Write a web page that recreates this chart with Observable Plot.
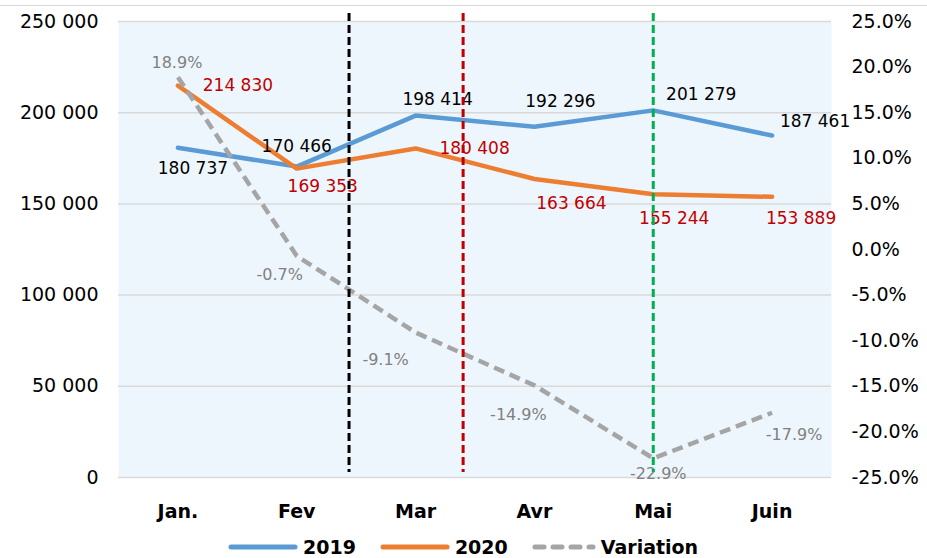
<!DOCTYPE html>
<html>
<head>
<meta charset="utf-8">
<script src="https://cdn.jsdelivr.net/npm/d3@7"></script>
<script src="https://cdn.jsdelivr.net/npm/@observablehq/plot@0.6"></script>
<style>
  body { margin: 0; background: #fff; font-family: "DejaVu Sans", sans-serif; }
  #wrap { position: relative; width: 927px; height: 558px; overflow: hidden; }
  #topline { position: absolute; left: 0; top: 5px; width: 927px; height: 1px; background: #d9d9d9; }
  #chart { position: absolute; left: 0; top: 0; }
  #legend { position: absolute; left: 228px; top: 536px; display: flex; align-items: center;
            font: bold 19px "DejaVu Sans", sans-serif; color: #000; }
  .item { display: flex; align-items: center; margin-right: 24px; }
  .item svg { margin-right: 5px; }
</style>
</head>
<body>
<div id="wrap">
  <div id="topline"></div>
  <div id="chart"></div>
  <div id="legend"></div>
</div>
<script>
// ---- data ----
const months = ["Jan.", "Fev", "Mar", "Avr", "Mai", "Juin"];
const values2019 = [180737, 170466, 198414, 192296, 201279, 187461];
const values2020 = [214830, 169353, 180408, 163664, 155244, 153889];
const variation = [18.9, -0.7, -9.1, -14.9, -22.9, -17.9];
const leftTicks = [0, 50000, 100000, 150000, 200000, 250000];
const rightTicks = [-25, -20, -15, -10, -5, 0, 5, 10, 15, 20, 25];
const eventMonths = [1.44, 2.40, 4.0];   // position of the vertical markers, in month units
const seriesNames = ["2019", "2020", "Variation"];

// ---- styling / layout (not data) ----
const colors = { s2019: "#5B9BD5", s2020: "#ED7D31", variation: "#A5A5A5" };
const eventColors = ["#000000", "#C00000", "#00B050"];
// label offsets [dx, dy] relative to the point, text centred
const off2019 = [[15, 21], [0, -20], [22, -16], [26, -25], [48, -16], [43, -14]];
const off2020 = [[60, 0], [26, 18], [59, 0], [37, 25], [21, 24], [29, 22]];
const offVar = [[-1, -14], [-17, 19], [-30, 27], [-16, 29], [5, 16], [22, 22]];

const locale = d3.formatLocale({ decimal: ".", thousands: " ", grouping: [3], currency: ["", ""] });
const fmt = locale.format(",");
// right axis (percent) mapped onto the left scale
const pctToLeft = p => (p + 25) * 5000;
const leftToPct = v => v / 5000 - 25;

const rows = months.map((m, i) => ({ i, m, a: values2019[i], b: values2020[i], v: pctToLeft(variation[i]), pct: variation[i] }));

const labelMarks = [];
rows.forEach((d, i) => {
  labelMarks.push(Plot.text([d], { x: "i", y: "a", text: d => fmt(d.a), dx: off2019[i][0], dy: off2019[i][1], fill: "#000", fontSize: 17 }));
  labelMarks.push(Plot.text([d], { x: "i", y: "b", text: d => fmt(d.b), dx: off2020[i][0], dy: off2020[i][1], fill: "#C00000", fontSize: 17 }));
  labelMarks.push(Plot.text([d], { x: "i", y: "v", text: d => d.pct.toFixed(1) + "%", dx: offVar[i][0], dy: offVar[i][1], fill: "#808080", fontSize: 16 }));
});

const chart = Plot.plot({
  width: 927,
  height: 528,
  marginLeft: 118,
  marginRight: 96,
  marginTop: 21,
  marginBottom: 51,
  style: { fontFamily: "DejaVu Sans, sans-serif", color: "#000", background: "transparent" },
  x: { type: "linear", domain: [-0.5, 5.5] },
  y: { domain: [0, 250000] },
  marks: [
    Plot.frame({ fill: "#EEF6FD", stroke: null }),
    Plot.ruleY(leftTicks, { stroke: "#D9D9D9", strokeWidth: 1.5 }),
    Plot.axisY(leftTicks, { anchor: "left", tickSize: 0, tickPadding: 20, tickFormat: fmt, fontSize: 19, label: null }),
    Plot.axisY(rightTicks.map(pctToLeft), { anchor: "right", tickSize: 0, tickPadding: 20, tickFormat: d => leftToPct(d).toFixed(1) + "%", fontSize: 19, label: null, textAnchor: "start" }),
    Plot.axisX(d3.range(months.length), { tickSize: 0, tickPadding: 27, tickFormat: i => months[i], fontSize: 19, fontWeight: "bold", label: null }),
    Plot.line(rows, { x: "i", y: "a", stroke: colors.s2019, strokeWidth: 4.5, strokeLinejoin: "round", strokeLinecap: "round" }),
    Plot.line(rows, { x: "i", y: "b", stroke: colors.s2020, strokeWidth: 4.5, strokeLinejoin: "round", strokeLinecap: "round" }),
    Plot.line(rows, { x: "i", y: "v", stroke: colors.variation, strokeWidth: 4.5, strokeDasharray: "11,6", strokeLinejoin: "round", strokeLinecap: "butt" }),
    ...labelMarks,
    ...eventMonths.map((m, k) => Plot.ruleX([m], { stroke: eventColors[k], strokeWidth: 3, strokeDasharray: "8,4", insetTop: -8, insetBottom: 5 }))
  ]
});
document.getElementById("chart").appendChild(chart);

// ---- legend ----
const legendStyles = [
  { color: colors.s2019, dash: null },
  { color: colors.s2020, dash: null },
  { color: colors.variation, dash: "9,9" }
];
const legend = document.getElementById("legend");
seriesNames.forEach((name, k) => {
  const st = legendStyles[k];
  const item = document.createElement("div");
  item.className = "item";
  const w = k === 2 ? 64 : 70;
  item.innerHTML = `<svg width="${w}" height="10"><line x1="3" y1="5" x2="${w - 3}" y2="5" stroke="${st.color}" stroke-width="5" stroke-linecap="round" ${st.dash ? `stroke-dasharray="${st.dash}"` : ""}/></svg><span>${name}</span>`;
  legend.appendChild(item);
});
</script>
</body>
</html>
